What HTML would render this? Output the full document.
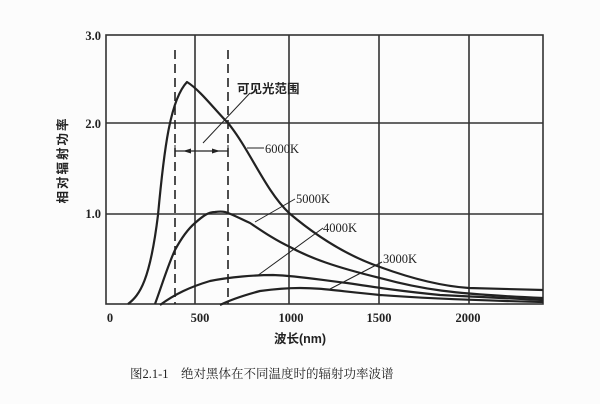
<!DOCTYPE html>
<html><head><meta charset="utf-8"><style>
html,body{margin:0;padding:0;background:#fff;}
svg{display:block;}
text{fill:#222;}
</style></head><body>
<svg width="600" height="404" viewBox="0 0 600 404" xmlns="http://www.w3.org/2000/svg">
<rect width="600" height="404" fill="#fcfcfc"/>
<g stroke="#333" stroke-width="1.6" fill="none">
<rect x="106" y="35" width="437" height="269"/>
<line x1="106" y1="123" x2="543" y2="123"/>
<line x1="106" y1="214" x2="543" y2="214"/>
<line x1="195" y1="35" x2="195" y2="304"/>
<line x1="289" y1="35" x2="289" y2="304"/>
<line x1="379" y1="35" x2="379" y2="304"/>
<line x1="469" y1="35" x2="469" y2="304"/>
</g>
<g stroke="#222" stroke-width="1.6" fill="none" stroke-dasharray="9,5">
<line x1="175" y1="50" x2="175" y2="304"/>
<line x1="228" y1="50" x2="228" y2="304"/>
</g>
<g stroke="#222" stroke-width="2.2" fill="none" stroke-linejoin="round">
<path d="M128,304 C140,295 150,280 158,215 C164,150 170,100 187,82 C200,90 215,110 228,123 C250,150 265,190 289,213 C315,235 345,255 380,267 C410,278 440,286 469,288 L543,290"/>
<path d="M155,304 C162,285 168,265 175,250 C182,237 188,229 195,223 C203,216 208,212 215,212 C222,211 226,212 228,213 C238,217 243,220 250,223 C262,231 275,240 290,247 C310,258 335,267 380,278 C420,289 450,294 543,298"/>
<path d="M160,305 C175,294 190,287 210,281 C230,277 255,275 273,275 C300,276 320,280 347,283 C380,288 400,291 440,295 L543,300"/>
<path d="M220,305 C232,299 245,295 260,291 C275,289 285,288 300,288 C320,288 330,290 380,295 C420,298 460,300 543,302"/>
</g>
<g stroke="#222" stroke-width="1" fill="none">
<line x1="203" y1="143" x2="250" y2="93"/>
<line x1="247" y1="148" x2="264" y2="148"/>
<line x1="255" y1="222" x2="295" y2="199"/>
<line x1="257" y1="276" x2="323" y2="228"/>
<line x1="330" y1="289" x2="382" y2="262"/>
<line x1="175" y1="151" x2="228" y2="151" stroke-width="1.3"/>
<line x1="175" y1="145" x2="175" y2="157"/>
<line x1="228" y1="145" x2="228" y2="157"/>
</g>
<path d="M183,151 l8,-2.5 v5z M220,151 l-8,-2.5 v5z" fill="#222"/>
<g font-family="Liberation Serif, serif" font-weight="bold" font-size="12.5">
<text x="101" y="40" text-anchor="end">3.0</text>
<text x="101" y="128" text-anchor="end">2.0</text>
<text x="101" y="218" text-anchor="end">1.0</text>
<text x="110" y="322" text-anchor="middle">0</text>
<text x="200" y="322" text-anchor="middle">500</text>
<text x="291" y="322" text-anchor="middle">1000</text>
<text x="379" y="322" text-anchor="middle">1500</text>
<text x="468" y="322" text-anchor="middle">2000</text>
</g>
<g font-family="Liberation Serif, serif" font-size="12.5">
<text x="265" y="153">6000K</text>
<text x="296" y="203">5000K</text>
<text x="323" y="232">4000K</text>
<text x="383" y="263">3000K</text>
</g>
<g font-family="Liberation Sans, 'Noto Sans CJK SC', sans-serif" font-size="12.5" font-weight="bold">
<text x="237" y="93">可见光范围</text>
<text x="300" y="343" text-anchor="middle">波长(nm)</text>
<text transform="translate(67,160) rotate(-90)" text-anchor="middle" letter-spacing="2">相对辐射功率</text>
</g>
<text x="130" y="378" font-family="Liberation Serif, 'Noto Serif CJK SC', serif" font-size="12.5">图2.1-1　绝对黑体在不同温度时的辐射功率波谱</text>
</svg>
</body></html>
